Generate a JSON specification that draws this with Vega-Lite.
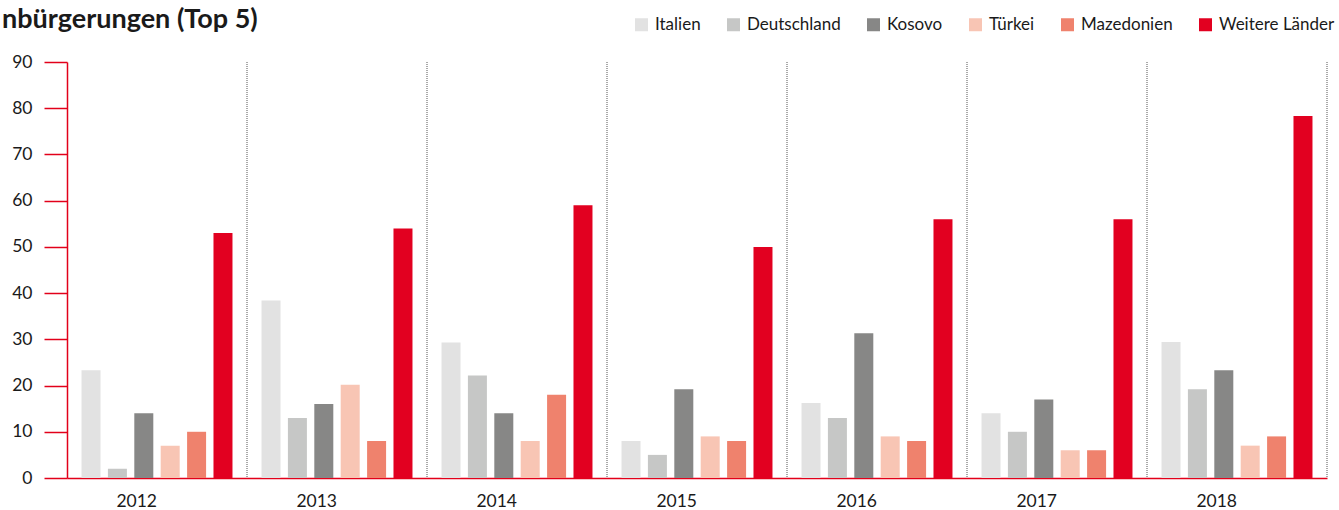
{
  "$schema": "https://vega.github.io/schema/vega-lite/v6.json",
  "width": 1260,
  "height": 416,
  "autosize": "none",
  "padding": {"left": 67, "top": 62, "right": 12, "bottom": 32},
  "background": "white",
  "config": {
    "font": "Lato",
    "view": {"stroke": null},
    "axis": {"labelFont": "Lato", "labelColor": "#1a1a1a", "titleFont": "Lato"},
    "legend": {"labelFont": "Lato"}
  },
  "title": {
    "text": "nbürgerungen (Top 5)",
    "anchor": "start",
    "frame": "group",
    "dx": -65,
    "offset": -39,
    "baseline": "alphabetic",
    "font": "Lato",
    "fontSize": 27,
    "fontWeight": "bold",
    "color": "#1a1a1a"
  },
  "datasets": {
    "bars": [
      {"year": "2012", "land": "Italien", "n": 23.3},
      {"year": "2012", "land": "Deutschland", "n": 2},
      {"year": "2012", "land": "Kosovo", "n": 14},
      {"year": "2012", "land": "Türkei", "n": 7},
      {"year": "2012", "land": "Mazedonien", "n": 10},
      {"year": "2012", "land": "Weitere Länder", "n": 53},
      {"year": "2013", "land": "Italien", "n": 38.4},
      {"year": "2013", "land": "Deutschland", "n": 13},
      {"year": "2013", "land": "Kosovo", "n": 16},
      {"year": "2013", "land": "Türkei", "n": 20.2},
      {"year": "2013", "land": "Mazedonien", "n": 8},
      {"year": "2013", "land": "Weitere Länder", "n": 54},
      {"year": "2014", "land": "Italien", "n": 29.3},
      {"year": "2014", "land": "Deutschland", "n": 22.2},
      {"year": "2014", "land": "Kosovo", "n": 14},
      {"year": "2014", "land": "Türkei", "n": 8},
      {"year": "2014", "land": "Mazedonien", "n": 18},
      {"year": "2014", "land": "Weitere Länder", "n": 59},
      {"year": "2015", "land": "Italien", "n": 8},
      {"year": "2015", "land": "Deutschland", "n": 5},
      {"year": "2015", "land": "Kosovo", "n": 19.2},
      {"year": "2015", "land": "Türkei", "n": 9},
      {"year": "2015", "land": "Mazedonien", "n": 8},
      {"year": "2015", "land": "Weitere Länder", "n": 50},
      {"year": "2016", "land": "Italien", "n": 16.2},
      {"year": "2016", "land": "Deutschland", "n": 13},
      {"year": "2016", "land": "Kosovo", "n": 31.3},
      {"year": "2016", "land": "Türkei", "n": 9},
      {"year": "2016", "land": "Mazedonien", "n": 8},
      {"year": "2016", "land": "Weitere Länder", "n": 56},
      {"year": "2017", "land": "Italien", "n": 14},
      {"year": "2017", "land": "Deutschland", "n": 10},
      {"year": "2017", "land": "Kosovo", "n": 17},
      {"year": "2017", "land": "Türkei", "n": 6},
      {"year": "2017", "land": "Mazedonien", "n": 6},
      {"year": "2017", "land": "Weitere Länder", "n": 56},
      {"year": "2018", "land": "Italien", "n": 29.4},
      {"year": "2018", "land": "Deutschland", "n": 19.2},
      {"year": "2018", "land": "Kosovo", "n": 23.3},
      {"year": "2018", "land": "Türkei", "n": 7},
      {"year": "2018", "land": "Mazedonien", "n": 9},
      {"year": "2018", "land": "Weitere Länder", "n": 78.3}
    ],
    "years": [
      {"year": "2012"}, {"year": "2013"}, {"year": "2014"}, {"year": "2015"},
      {"year": "2016"}, {"year": "2017"}, {"year": "2018"}
    ]
  },
  "layer": [
    {
      "data": {"name": "years"},
      "mark": {"type": "rule", "color": "#555555", "strokeWidth": 1, "strokeDash": [1, 1]},
      "encoding": {
        "x": {"field": "year", "type": "ordinal", "bandPosition": 1,
              "scale": {"domain": ["2012","2013","2014","2015","2016","2017","2018"], "paddingInner": 0, "paddingOuter": 0}}
      }
    },
    {
      "data": {"name": "bars"},
      "mark": {"type": "bar"},
      "encoding": {
        "x": {"field": "year", "type": "ordinal", "title": null,
              "scale": {"domain": ["2012","2013","2014","2015","2016","2017","2018"], "paddingInner": 0, "paddingOuter": 0},
              "axis": {"labelAngle": 0, "ticks": false, "domainColor": "#e2001a", "domainWidth": 1.5,
                       "labelFontSize": 17.5, "labelPadding": 23, "grid": false}},
        "xOffset": {"field": "land", "type": "nominal",
              "scale": {"domain": ["Italien","Deutschland","Kosovo","Türkei","Mazedonien","Weitere Länder"], "paddingInner": 0.28, "paddingOuter": 0.55}},
        "y": {"field": "n", "type": "quantitative", "title": null,
              "scale": {"domain": [0, 90], "nice": false},
              "axis": {"values": [0,10,20,30,40,50,60,70,80,90], "grid": false,
                       "domainColor": "#e2001a", "domainWidth": 1.5, "tickColor": "#e2001a", "tickWidth": 1.5,
                       "tickSize": 23, "labelPadding": 12, "labelFontSize": 17.5}},
        "color": {"field": "land", "type": "nominal", "title": null,
              "scale": {"domain": ["Italien","Deutschland","Kosovo","Türkei","Mazedonien","Weitere Länder"],
                        "range": ["#e2e2e2","#c6c7c6","#878786","#f8c5b4","#ef826d","#e20020"]},
              "legend": {"orient": "none", "legendX": 566, "legendY": -46, "direction": "horizontal",
                         "symbolType": "square", "symbolSize": 169, "symbolStrokeWidth": 0, "symbolOpacity": 1,
                         "labelFontSize": 17, "labelOffset": 5, "columnPadding": 24, "padding": 0,
                         "labelColor": "#1a1a1a"}}
      }
    }
  ]
}
